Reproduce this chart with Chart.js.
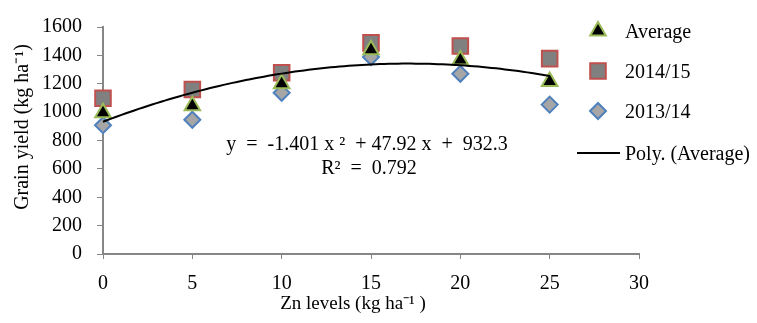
<!DOCTYPE html>
<html>
<head>
<meta charset="utf-8">
<script src="https://cdn.jsdelivr.net/npm/chart.js@4.4.0/dist/chart.umd.min.js"></script>
<style>
  html, body { margin: 0; padding: 0; background: #fff; }
</style>
</head>
<body>
<canvas id="myChart" width="757" height="323"></canvas>
<script>
// data
var znLevels = [0, 5, 10, 15, 20, 25];
var avgYield = [996, 1045, 1200, 1440, 1368, 1216];
var yield1415 = [1098, 1160, 1277, 1488, 1466, 1377];
var yield1314 = [908, 946, 1136, 1388, 1270, 1053];
// trend line coefficients as printed on the chart (a x^2 + b x + c)
var trendCoef = [-1.401, 47.92, 932.3];
var trendLabel = 'y  =  -1.401 x \u00B2  + 47.92 x  +  932.3';
var r2Label = 'R\u00B2  =  0.792';
var xTitle = 'Zn levels (kg ha\u207B\u00B9 )';
var yTitle = 'Grain yield (kg ha\u207B\u00B9)';

var serif = "'Liberation Serif', 'Times New Roman', serif";
var axisGray = '#868686';

function pts(xs, ys) {
  return xs.map(function (x, i) { return {x: x, y: ys[i]}; });
}

var trendPts = [];
for (var x = 0; x <= 25; x += 0.25) {
  trendPts.push({x: x, y: trendCoef[0] * x * x + trendCoef[1] * x + trendCoef[2]});
}

// legend, equation and axis titles drawn like the Excel original
var overlay = {
  id: 'overlay',
  afterDraw: function (chart) {
    var ctx = chart.ctx;
    ctx.save();
    ctx.fillStyle = '#000';
    ctx.font = '20px ' + serif;
    ctx.textBaseline = 'middle';
    ctx.textAlign = 'center';
    ctx.fillText(trendLabel, 367, 145);
    ctx.fillText(r2Label, 369, 169);

    ctx.font = '19px ' + serif;
    ctx.fillText(xTitle, 353, 304);
    ctx.font = '20px ' + serif;
    ctx.save();
    ctx.translate(23, 127);
    ctx.rotate(-Math.PI / 2);
    ctx.fillText(yTitle, 0, 0);
    ctx.restore();

    var items = [
      {ds: chart.data.datasets[1], y: 31},
      {ds: chart.data.datasets[2], y: 71},
      {ds: chart.data.datasets[3], y: 111}
    ];
    ctx.textAlign = 'left';
    ctx.font = '20px ' + serif;
    items.forEach(function (it) {
      var d = it.ds;
      ctx.fillStyle = d.backgroundColor;
      ctx.strokeStyle = d.borderColor;
      ctx.lineWidth = d.borderWidth;
      Chart.helpers.drawPoint(ctx, {
        pointStyle: d.pointStyle, radius: d.pointRadius, rotation: 0,
        borderWidth: d.borderWidth
      }, 598, it.y);
      ctx.fillStyle = '#000';
      ctx.fillText(d.label, 625, it.y + 2);
    });
    ctx.strokeStyle = '#000';
    ctx.lineWidth = 2;
    ctx.beginPath();
    ctx.moveTo(577, 153);
    ctx.lineTo(620, 153);
    ctx.stroke();
    ctx.fillStyle = '#000';
    ctx.fillText(chart.data.datasets[0].label, 625, 155);
    ctx.restore();
  }
};

new Chart('myChart', {
  type: 'scatter',
  data: {
    datasets: [{
      label: 'Poly. (Average)',
      data: trendPts,
      showLine: true,
      borderColor: '#000',
      borderWidth: 2,
      pointRadius: 0,
      fill: false,
      clip: false
    }, {
      label: 'Average',
      data: pts(znLevels, avgYield),
      pointStyle: 'triangle',
      pointRadius: 9,
      backgroundColor: '#000000',
      borderColor: '#9BBB59',
      borderWidth: 2,
      clip: false
    }, {
      label: '2014/15',
      data: pts(znLevels, yield1415),
      pointStyle: 'rect',
      pointRadius: 11,
      backgroundColor: '#808080',
      borderColor: '#C0504D',
      borderWidth: 2,
      clip: false
    }, {
      label: '2013/14',
      data: pts(znLevels, yield1314),
      pointStyle: 'rectRot',
      pointRadius: 8,
      backgroundColor: '#A6A6A6',
      borderColor: '#4F81BD',
      borderWidth: 2,
      clip: false
    }]
  },
  options: {
    responsive: false,
    animation: false,
    devicePixelRatio: 1,
    layout: {padding: {left: 0, right: 118, top: 15, bottom: 0}},
    plugins: {legend: {display: false}, tooltip: {enabled: false}},
    scales: {
      x: {
        type: 'linear',
        min: 0, max: 30,
        afterFit: function (s) { s.height = 69; },
        ticks: {stepSize: 5, maxRotation: 0, autoSkip: false, color: '#000', padding: 13,
          font: {family: serif, size: 20}, callback: function (v) { return String(v); }},
        grid: {display: true, drawOnChartArea: false, drawTicks: true, tickLength: 5, color: axisGray},
        border: {color: axisGray, width: 2}
      },
      y: {
        min: 0, max: 1600,
        afterFit: function (s) { s.width = 103; },
        ticks: {stepSize: 200, autoSkip: false, color: '#000', padding: 15,
          font: {family: serif, size: 20}, callback: function (v) { return String(v); }},
        grid: {display: true, drawOnChartArea: false, drawTicks: true, tickLength: 6, color: axisGray},
        border: {color: axisGray, width: 2}
      }
    }
  },
  plugins: [overlay]
});
</script>
</body>
</html>
